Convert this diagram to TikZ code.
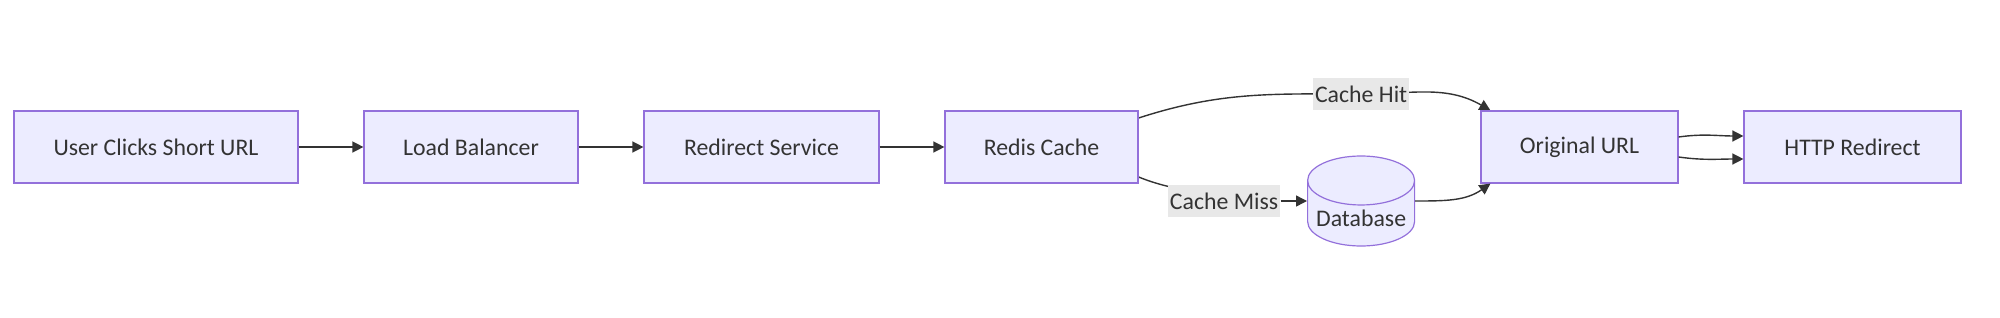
\documentclass[tikz,border=0pt]{standalone}
\usepackage{fontspec}
\setmainfont{Carlito}
\usepackage{tikz}
\usetikzlibrary{arrows.meta,positioning,calc,backgrounds,shapes.geometric}
\definecolor{mmfill}{HTML}{ECECFF}
\definecolor{mmedge}{HTML}{9370DB}
\definecolor{mmline}{HTML}{333333}
\definecolor{mmlabel}{HTML}{E8E8E8}
\tikzset{
  flowarrow/.style={-{Triangle[length=5.5pt,width=5.5pt]}, line width=0.7pt, draw=mmline},
  stepbox/.style={draw=mmedge, fill=mmfill, line width=0.6pt, minimum height=36pt,
    inner sep=3pt, text=mmline, font=\fontsize{11.9}{13}\selectfont},
  store/.style={cylinder, shape border rotate=90, aspect=0.5, draw=mmedge, fill=mmfill,
    line width=0.6pt, minimum width=53.5pt, minimum height=45pt, inner sep=2pt,
    text=mmline, font=\fontsize{11.9}{13}\selectfont},
  edgelabel/.style={fill=mmlabel, inner xsep=1pt, inner ysep=2pt, minimum height=16pt,
    text=mmline, font=\fontsize{11.9}{13}\selectfont}
}
\begin{document}
\begin{tikzpicture}[node distance=32.4pt]
  \useasboundingbox (0,0) rectangle (1000pt,158.5pt);
  \node[stepbox, minimum width=142pt] (click) at (78pt,85pt) {User Clicks Short URL};
  \node[stepbox, minimum width=107pt, right=of click] (lb) {Load Balancer};
  \node[stepbox, minimum width=117.5pt, right=of lb] (svc) {Redirect Service};
  \node[stepbox, minimum width=96.5pt, right=of svc] (redis) {Redis Cache};
  \node[store, anchor=shape center] (db) at ($(redis.east)+(111.25pt,-27pt)$) {Database};
  \node[stepbox, minimum width=98.5pt, right=170.9pt of redis] (orig) {Original URL};
  \node[stepbox, minimum width=108.5pt, right=of orig] (http) {HTTP Redirect};
  \node[edgelabel] (hit) at ($(db.shape center |- redis.center)+(0,26.5pt)$) {Cache Hit};
  \node[edgelabel] (miss) at ($(db.shape center)+(-68.5pt,0)$) {Cache Miss};

  \draw[flowarrow] (click) -- (lb);
  \draw[flowarrow] (lb) -- (svc);
  \draw[flowarrow] (svc) -- (redis);
  \draw[flowarrow] (miss) -- (db.shape center -| db.180);
  \draw[flowarrow] (db.shape center -| db.0) to[out=0,in=-145] ([xshift=5pt]orig.south west);
  \draw[flowarrow] ([yshift=5pt]orig.east) to[out=8,in=180] ([yshift=5.5pt]http.west);
  \draw[flowarrow] ([yshift=-5pt]orig.east) to[out=-8,in=180] ([yshift=-6pt]http.west);
  \begin{scope}[on background layer]
    \draw[flowarrow] ([yshift=14.5pt]redis.east) to[out=18,in=180] (hit.center)
      to[out=0,in=150] ([xshift=5pt]orig.north west);
    \draw[line width=0.7pt, draw=mmline] ([yshift=-15pt]redis.east) to[out=-22,in=160] (miss.center);
  \end{scope}
\end{tikzpicture}
\end{document}
